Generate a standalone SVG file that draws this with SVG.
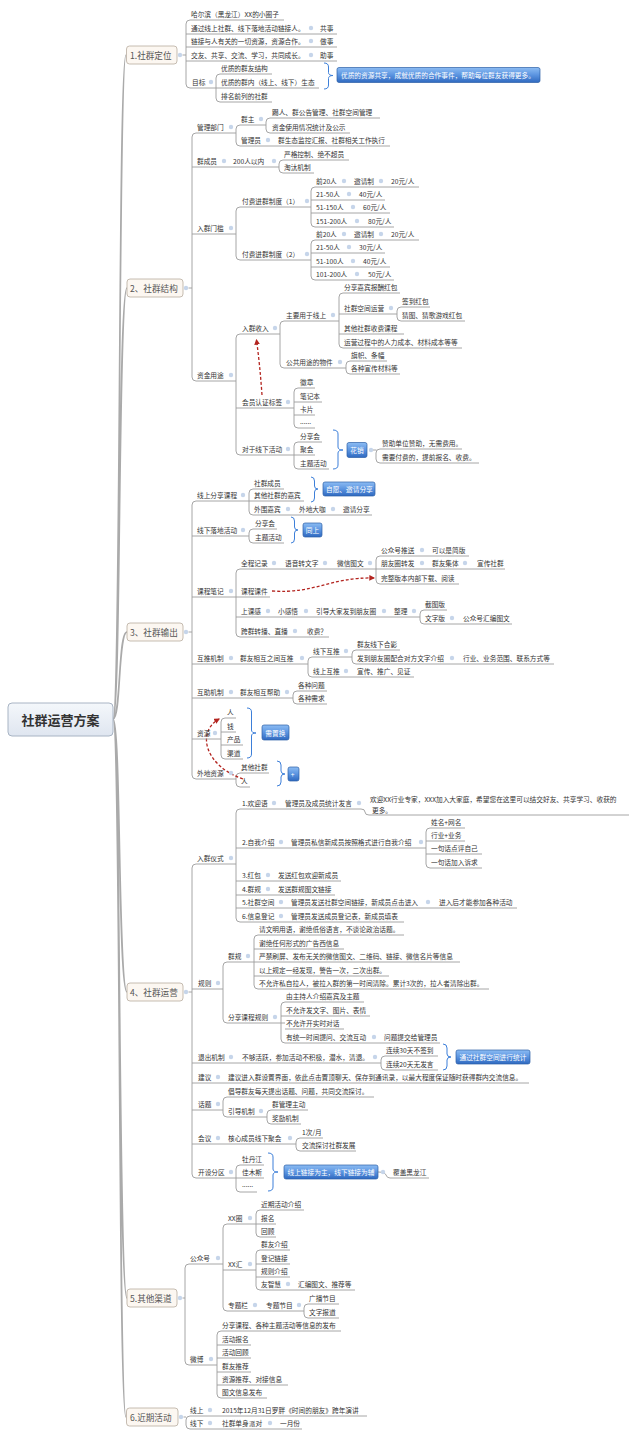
<svg xmlns="http://www.w3.org/2000/svg" width="640" height="1438" viewBox="0 0 640 1438">
<defs>
<linearGradient id="gb" x1="0" y1="0" x2="0" y2="1"><stop offset="0" stop-color="#8cbcf3"/><stop offset="0.5" stop-color="#5b94e0"/><stop offset="1" stop-color="#2f69c0"/></linearGradient>
<linearGradient id="gr" x1="0" y1="0" x2="0" y2="1"><stop offset="0" stop-color="#f4f7fb"/><stop offset="1" stop-color="#dfe6f0"/></linearGradient>
<marker id="ah" viewBox="0 0 10 10" refX="8" refY="5" markerWidth="4.5" markerHeight="4.5" orient="auto"><path d="M0,0L10,5L0,10z" fill="#b3241f"/></marker>
<style>
.t{font-family:"Noto Sans CJK SC","Noto Sans",sans-serif;font-size:6.7px;fill:#333;dominant-baseline:central}
.bt{font-family:"Noto Sans CJK SC","Noto Sans",sans-serif;font-size:8.6px;fill:#555;dominant-baseline:central}
.rt{font-family:"Noto Sans CJK SC","Noto Sans",sans-serif;font-size:13px;font-weight:bold;fill:#333;dominant-baseline:central;text-anchor:middle}
.wt{font-family:"Noto Sans CJK SC","Noto Sans",sans-serif;font-size:6.7px;fill:#fff;dominant-baseline:central}
.u{stroke:#9c9c9c;stroke-width:0.9;fill:none}
.s{stroke:#9c9c9c;stroke-width:0.9;fill:none}
.m{stroke:#aaaaaa;stroke-width:1.7;fill:none}
.d{fill:#c6d5ea}
.bx{fill:#fcf7f1;stroke:#b8aca0;stroke-width:0.8}
.bl{fill:url(#gb);stroke:#2b5ea6;stroke-width:0.7}
.br{stroke:#3d7fd9;stroke-width:1;fill:none}
.r{stroke:#b3241f;stroke-width:1.3;fill:none;stroke-dasharray:3 2}
</style>
</defs>
<rect width="640" height="1438" fill="#fff"/>

<g id="connectors">
<path class="m" d="M113,719C121,719 118,55 126,55M113,719C121,719 118,288 127,288M113,719C121,719 118,632 127,632M113,719C121,719 118,992 127,992M113,719C121,719 118,1298 127,1298M113,719C121,719 118,1417 126,1417"/>
<path class="s" d="M190,20Q186,20 186,24V84Q186,88 190,88M186,34h4M186,47h4M186,61h4M182.5,55H186
M220,74Q216,74 216,78V98Q216,102 220,102M207,88H220
M196,133Q192,133 192,137V377Q192,381 196,381M192,167h4M192,234h4M188.5,288H192
M240,125Q236,125 236,129V142Q236,146 240,146M226,133H236
M270,118Q266,118 266,122V129Q266,133 270,133M257,125H266
M283,160Q279,160 279,164V169Q279,173 283,173M269,167H279
M240,207Q236,207 236,211V256Q236,260 240,260M226,234H236
M315,187Q311,187 311,191V223Q311,227 315,227M311,200h4M302,207H311M311,213h4
M315,240Q311,240 311,244V276Q311,280 315,280M311,253h4M302,260H311M311,267h4
M240,334Q236,334 236,338V451Q236,455 240,455M226,381H236M236,408h4
M284,321Q280,321 280,325V364Q280,368 284,368M270,334H280
M343,293Q339,293 339,297V344Q339,348 343,348M339,314h4M328,321H339M339,334h4
M401,307Q397,307 397,311V317Q397,321 401,321M387,314H397
M350,361Q346,361 346,365V370Q346,374 350,374M335,368H346
M298,388Q294,388 294,392V424Q294,428 298,428M294,402h4M284,408H294M294,415h4
M298,442Q294,442 294,446V465Q294,469 298,469M284,455H298
M373,450H376.5M380,449Q376,449 376,453V459Q376,463 380,463
M196,501Q192,501 192,505V775Q192,779 196,779M192,536h4M192,597h4M188.5,632H192M192,664h4M192,698h4M192,739h4
M253,489Q249,489 249,493V511Q249,515 253,515M239,501H253
M253,529Q249,529 249,533V539Q249,543 253,543M239,536H249
M240,569Q236,569 236,573V633Q236,637 240,637M226,597H240M236,617h4
M380,556Q376,556 376,560V580Q376,584 380,584M365,569H380
M424,610Q420,610 420,614V620Q420,624 424,624M410,617H420
M312,657Q308,657 308,661V673Q308,677 312,677M297,664H308
M356,650Q352,650 352,654V660Q352,664 356,664M341,657H352
M297,691Q293,691 293,695V700Q293,704 297,704M283,698H293
M225,718Q221,718 221,722V755Q221,759 225,759M221,732h4M211,739H221M221,745h4
M240,773Q236,773 236,777V783Q236,787 240,787M226,779H236
M196,864Q192,864 192,868V1174Q192,1178 196,1178M192,989h4M188.5,992H192M192,1063h4M192,1083h4M192,1110h4M192,1144h4
M240,809Q236,809 236,813V918Q236,922 240,922M236,848h4M226,864H236M236,881h4M236,895h4M236,908h4
M355,809H361Q365,809 365,812Q365,815 369,815
M430,828Q426,828 426,832V864Q426,868 430,868M426,841h4M417,848H426M426,854h4
M227,962Q223,962 223,966V1019Q223,1023 227,1023M214,989H223
M258,935Q254,935 254,939V985Q254,989 258,989M254,949h4M244,962H258M254,976h4
M285,1002Q281,1002 281,1006V1039Q281,1043 285,1043M281,1016h4M271,1023H285
M385,1056Q381,1056 381,1060V1066Q381,1070 385,1070M371,1063H381
M227,1097Q223,1097 223,1101V1113Q223,1117 227,1117M214,1110H223
M271,1110Q267,1110 267,1114V1120Q267,1124 271,1124M257,1117H267
M300,1138Q296,1138 296,1142V1147Q296,1151 300,1151M285,1144H296
M240,1165Q236,1165 236,1169V1188Q236,1192 240,1192M226,1178H240
M378,1172Q385,1172 386,1175Q387,1178 390,1178
M189,1264Q185,1264 185,1268V1361Q185,1365 189,1365M182.5,1298H185
M227,1224Q223,1224 223,1228V1307Q223,1311 227,1311M213,1264H223M223,1270h4
M260,1210Q256,1210 256,1214V1233Q256,1237 260,1237M245,1224H260
M260,1250Q256,1250 256,1254V1286Q256,1290 260,1290M256,1264h4M245,1270H256M256,1277h4
M308,1304Q304,1304 304,1308V1314Q304,1318 308,1318M295,1311H304
M221,1331Q217,1331 217,1335V1394Q217,1398 221,1398M217,1345h4M217,1358h4M206,1365H217M217,1372h4M217,1385h4
M190,1416Q186,1416 186,1420V1425Q186,1429 190,1429M183.5,1417H186"/>
<path class="br" d="M324,63Q328.5,63 328.5,67V72.5Q328.5,75.5 333,75.5Q328.5,75.5 328.5,78.5V85Q328.5,89 324,89
M333,430Q338,430 338,434V447Q338,450 343,450Q338,450 338,453V465Q338,469 333,469
M311,477Q314.5,477 314.5,481V486Q314.5,489 318,489Q314.5,489 314.5,492V498Q314.5,502 311,502
M291,517Q294.5,517 294.5,521V527Q294.5,530 298,530Q294.5,530 294.5,533V539Q294.5,543 291,543
M247,708Q251.5,708 251.5,712V730Q251.5,733 256,733Q251.5,733 251.5,736V754Q251.5,758 247,758
M277,761Q281,761 281,765V771Q281,774 285,774Q281,774 281,777V782Q281,786 277,786
M443,1044Q447,1044 447,1048V1054Q447,1057 451,1057Q447,1057 447,1060V1066Q447,1070 443,1070
M268,1153Q273,1153 273,1157V1169Q273,1172 278,1172Q273,1172 273,1175V1187Q273,1191 268,1191"/>
<path class="r" d="M262,395Q260,366 256.5,340" marker-end="url(#ah)"/>
<path class="r" d="M272,591C315,594 330,577 374,578" marker-end="url(#ah)"/>
<path class="r" d="M243,779C205,766 196,732 219,719" marker-end="url(#ah)"/>
</g>

<g id="root"><rect x="8" y="703" width="105" height="33" rx="4" fill="url(#gr)" stroke="#a8b4c4" stroke-width="1"/><text class="rt" x="60.5" y="719.5">社群运营方案</text></g>

<g id="b1"><rect class="bx" x="126.5" y="46" width="50.5" height="18" rx="3"/><text class="bt" x="130" y="55">1.社群定位</text><circle class="d" cx="180" cy="55" r="2.2"/></g>
<g id="n1-1"><text class="t" x="191" y="14">哈尔滨（黑龙江）XX的小圈子</text><path class="u" d="M190,20H284"/></g>
<g id="n1-2"><text class="t" x="191" y="28">通过线上社群、线下落地活动链接人。</text><path class="u" d="M190,34H306"/><circle class="d" cx="311" cy="28" r="2.2"/></g>
<g id="n1-2a"><text class="t" x="320" y="28">共事</text><path class="u" d="M306,34H337"/></g>
<g id="n1-3"><text class="t" x="191" y="41">链接与人有关的一切资源，资源合作。</text><path class="u" d="M190,47H306"/><circle class="d" cx="311" cy="41" r="2.2"/></g>
<g id="n1-3a"><text class="t" x="320" y="41">做事</text><path class="u" d="M306,47H337"/></g>
<g id="n1-4"><text class="t" x="191" y="55">交友、共享、交流、学习，共同成长。</text><path class="u" d="M190,61H306"/><circle class="d" cx="311" cy="55" r="2.2"/></g>
<g id="n1-4a"><text class="t" x="320" y="55">助事</text><path class="u" d="M306,61H337"/></g>
<g id="n1-5"><text class="t" x="192" y="82">目标</text><path class="u" d="M190,88H207"/><circle class="d" cx="211" cy="82" r="2.2"/></g>
<g id="n1-5a"><text class="t" x="221" y="68">优质的群友结构</text><path class="u" d="M220,74H272"/></g>
<g id="n1-5b"><text class="t" x="221" y="82">优质的群内（线上、线下）生态</text><path class="u" d="M220,88H319"/></g>
<g id="n1-5c"><text class="t" x="221" y="96">排名前列的社群</text><path class="u" d="M220,102H272"/></g>
<g id="n1-s"><rect class="bl" x="337" y="67.5" width="203" height="15" rx="2"/><text class="wt" x="341" y="75">优质的资源共享，成就优质的合作事件，帮助每位群友获得更多。</text></g>

<g id="b2"><rect class="bx" x="127" y="279" width="56" height="18" rx="3"/><text class="bt" x="130" y="288">2、社群结构</text><circle class="d" cx="186" cy="288" r="2.2"/></g>
<g id="n2-1"><text class="t" x="197" y="127">管理部门</text><path class="u" d="M196,133H226"/><circle class="d" cx="231" cy="127" r="2.2"/></g>
<g id="n2-1a"><text class="t" x="241" y="119">群主</text><path class="u" d="M240,125H257"/><circle class="d" cx="261" cy="119" r="2.2"/></g>
<g id="n2-1a1"><text class="t" x="272" y="112">踢人、群公告管理、社群空间管理</text><path class="u" d="M270,118H380"/></g>
<g id="n2-1a2"><text class="t" x="272" y="127">资金使用情况统计及公示</text><path class="u" d="M270,133H350"/></g>
<g id="n2-1b"><text class="t" x="241" y="140">管理员</text><path class="u" d="M240,146H264"/><circle class="d" cx="268" cy="140" r="2.2"/></g>
<g id="n2-1b1"><text class="t" x="278" y="140">群生态监控汇报、社群相关工作执行</text><path class="u" d="M264,146H390"/></g>
<g id="n2-2"><text class="t" x="197" y="161">群成员</text><path class="u" d="M196,167H219"/><circle class="d" cx="224" cy="161" r="2.2"/></g>
<g id="n2-2a"><text class="t" x="233" y="161">200人以内</text><path class="u" d="M219,167H269"/><circle class="d" cx="274" cy="161" r="2.2"/></g>
<g id="n2-2a1"><text class="t" x="284" y="154">严格控制、绝不超员</text><path class="u" d="M283,160H349"/></g>
<g id="n2-2a2"><text class="t" x="284" y="167">淘汰机制</text><path class="u" d="M283,173H314"/></g>
<g id="n2-3"><text class="t" x="197" y="228">入群门槛</text><path class="u" d="M196,234H226"/><circle class="d" cx="231" cy="228" r="2.2"/></g>
<g id="n2-3a"><text class="t" x="242" y="201">付费进群制度（1）</text><path class="u" d="M240,207H302"/><circle class="d" cx="307" cy="201" r="2.2"/></g>
<g id="n2-3a1"><text class="t" x="316" y="181">前20人</text><path class="u" d="M315,187H339"/><circle class="d" cx="344" cy="181" r="2.2"/></g>
<g id="n2-3a1b"><text class="t" x="354" y="181">邀请制</text><path class="u" d="M339,187H376"/><circle class="d" cx="381" cy="181" r="2.2"/></g>
<g id="n2-3a1c"><text class="t" x="391" y="181">20元/人</text><path class="u" d="M376,187H419"/></g>
<g id="n2-3a2"><text class="t" x="316" y="194">21-50人</text><path class="u" d="M315,200H343"/><circle class="d" cx="349" cy="194" r="2.2"/></g>
<g id="n2-3a2b"><text class="t" x="359" y="194">40元/人</text><path class="u" d="M343,200H385"/></g>
<g id="n2-3a3"><text class="t" x="316" y="207">51-150人</text><path class="u" d="M315,213H347"/><circle class="d" cx="353" cy="207" r="2.2"/></g>
<g id="n2-3a3b"><text class="t" x="363" y="207">60元/人</text><path class="u" d="M347,213H390"/></g>
<g id="n2-3a4"><text class="t" x="316" y="221">151-200人</text><path class="u" d="M315,227H351"/><circle class="d" cx="357" cy="221" r="2.2"/></g>
<g id="n2-3a4b"><text class="t" x="368" y="221">80元/人</text><path class="u" d="M351,227H394"/></g>
<g id="n2-3b"><text class="t" x="242" y="254">付费进群制度（2）</text><path class="u" d="M240,260H302"/><circle class="d" cx="307" cy="254" r="2.2"/></g>
<g id="n2-3b1"><text class="t" x="316" y="234">前20人</text><path class="u" d="M315,240H339"/><circle class="d" cx="344" cy="234" r="2.2"/></g>
<g id="n2-3b1b"><text class="t" x="354" y="234">邀请制</text><path class="u" d="M339,240H376"/><circle class="d" cx="381" cy="234" r="2.2"/></g>
<g id="n2-3b1c"><text class="t" x="391" y="234">20元/人</text><path class="u" d="M376,240H419"/></g>
<g id="n2-3b2"><text class="t" x="316" y="247">21-50人</text><path class="u" d="M315,253H343"/><circle class="d" cx="349" cy="247" r="2.2"/></g>
<g id="n2-3b2b"><text class="t" x="359" y="247">30元/人</text><path class="u" d="M343,253H385"/></g>
<g id="n2-3b3"><text class="t" x="316" y="261">51-100人</text><path class="u" d="M315,267H347"/><circle class="d" cx="353" cy="261" r="2.2"/></g>
<g id="n2-3b3b"><text class="t" x="363" y="261">40元/人</text><path class="u" d="M347,267H390"/></g>
<g id="n2-3b4"><text class="t" x="316" y="274">101-200人</text><path class="u" d="M315,280H351"/><circle class="d" cx="357" cy="274" r="2.2"/></g>
<g id="n2-3b4b"><text class="t" x="368" y="274">50元/人</text><path class="u" d="M351,280H394"/></g>
<g id="n2-4"><text class="t" x="197" y="375">资金用途</text><path class="u" d="M196,381H226"/><circle class="d" cx="231" cy="375" r="2.2"/></g>
<g id="n2-4a"><text class="t" x="242" y="328">入群收入</text><path class="u" d="M240,334H270"/><circle class="d" cx="275" cy="328" r="2.2"/></g>
<g id="n2-4a1"><text class="t" x="286" y="315">主要用于线上</text><path class="u" d="M284,321H328"/><circle class="d" cx="333" cy="315" r="2.2"/></g>
<g id="n2-4a1a"><text class="t" x="344" y="287">分享嘉宾报酬红包</text><path class="u" d="M343,293H400"/></g>
<g id="n2-4a1b"><text class="t" x="344" y="308">社群空间运营</text><path class="u" d="M343,314H387"/><circle class="d" cx="391" cy="308" r="2.2"/></g>
<g id="n2-4a1b1"><text class="t" x="402" y="301">签到红包</text><path class="u" d="M401,307H430"/></g>
<g id="n2-4a1b2"><text class="t" x="402" y="315">猜图、猜歌游戏红包</text><path class="u" d="M401,321H465"/></g>
<g id="n2-4a1c"><text class="t" x="344" y="328">其他社群收费课程</text><path class="u" d="M343,334H404"/></g>
<g id="n2-4a1d"><text class="t" x="344" y="342">运营过程中的人力成本、材料成本等等</text><path class="u" d="M343,348H462"/></g>
<g id="n2-4a2"><text class="t" x="286" y="362">公共用途的物件</text><path class="u" d="M284,368H335"/><circle class="d" cx="340" cy="362" r="2.2"/></g>
<g id="n2-4a2a"><text class="t" x="351" y="355">旗帜、条幅</text><path class="u" d="M350,361H387"/></g>
<g id="n2-4a2b"><text class="t" x="351" y="368">各种宣传材料等</text><path class="u" d="M350,374H400"/></g>
<g id="n2-4b"><text class="t" x="242" y="402">会员认证标签</text><path class="u" d="M240,408H284"/><circle class="d" cx="288" cy="402" r="2.2"/></g>
<g id="n2-4b1"><text class="t" x="300" y="382">徽章</text><path class="u" d="M298,388H315"/></g>
<g id="n2-4b2"><text class="t" x="300" y="396">笔记本</text><path class="u" d="M298,402H322"/></g>
<g id="n2-4b3"><text class="t" x="300" y="409">卡片</text><path class="u" d="M298,415H315"/></g>
<g id="n2-4b4"><text class="t" x="300" y="421">......</text><path class="u" d="M298,428H315"/></g>
<g id="n2-4c"><text class="t" x="242" y="449">对于线下活动</text><path class="u" d="M240,455H284"/><circle class="d" cx="288" cy="449" r="2.2"/></g>
<g id="n2-4c1"><text class="t" x="300" y="436">分享会</text><path class="u" d="M298,442H322"/></g>
<g id="n2-4c2"><text class="t" x="300" y="449">聚会</text><path class="u" d="M298,455H315"/></g>
<g id="n2-4c3"><text class="t" x="300" y="463">主题活动</text><path class="u" d="M298,469H329"/></g>
<g id="n2-4cs"><rect class="bl" x="347" y="442.5" width="20" height="15" rx="2"/><text class="wt" x="350.3" y="450">花销</text><circle class="d" cx="371" cy="450" r="2.2"/></g>
<g id="n2-4cs1"><text class="t" x="382" y="443">赞助单位赞助，无需费用。</text><path class="u" d="M380,449H462"/></g>
<g id="n2-4cs2"><text class="t" x="382" y="457">需要付费的，提前报名、收费。</text><path class="u" d="M380,463H479"/></g>

<g id="b3"><rect class="bx" x="127" y="623" width="56" height="18" rx="3"/><text class="bt" x="130" y="632">3、社群输出</text><circle class="d" cx="186" cy="632" r="2.2"/></g>
<g id="n3-1"><text class="t" x="197" y="495">线上分享课程</text><path class="u" d="M196,501H239"/><circle class="d" cx="243" cy="495" r="2.2"/></g>
<g id="n3-1a"><text class="t" x="254" y="483">社群成员</text><path class="u" d="M253,489H284"/></g>
<g id="n3-1b"><text class="t" x="254" y="495">其他社群的嘉宾</text><path class="u" d="M253,501H304"/></g>
<g id="n3-1c"><text class="t" x="254" y="509">外围嘉宾</text><path class="u" d="M253,515H284"/><circle class="d" cx="288" cy="509" r="2.2"/></g>
<g id="n3-1c1"><text class="t" x="299" y="509">外地大咖</text><path class="u" d="M284,515H328"/><circle class="d" cx="333" cy="509" r="2.2"/></g>
<g id="n3-1c2"><text class="t" x="343" y="509">邀请分享</text><path class="u" d="M328,515H372"/></g>
<g id="n3-1s"><rect class="bl" x="323" y="482" width="52" height="14" rx="2"/><text class="wt" x="326" y="489">自愿、邀请分享</text></g>
<g id="n3-2"><text class="t" x="197" y="530">线下落地活动</text><path class="u" d="M196,536H239"/><circle class="d" cx="243" cy="530" r="2.2"/></g>
<g id="n3-2a"><text class="t" x="255" y="523">分享会</text><path class="u" d="M253,529H277"/></g>
<g id="n3-2b"><text class="t" x="255" y="537">主题活动</text><path class="u" d="M253,543H284"/></g>
<g id="n3-2s"><rect class="bl" x="303" y="523" width="19" height="14" rx="2"/><text class="wt" x="305.8" y="530">同上</text></g>
<g id="n3-3"><text class="t" x="197" y="591">课程笔记</text><path class="u" d="M196,597H226"/><circle class="d" cx="231" cy="591" r="2.2"/></g>
<g id="n3-3a"><text class="t" x="241" y="563">全程记录</text><path class="u" d="M240,569H270"/><circle class="d" cx="274" cy="563" r="2.2"/></g>
<g id="n3-3a1"><text class="t" x="285" y="563">语音转文字</text><path class="u" d="M270,569H320"/><circle class="d" cx="325" cy="563" r="2.2"/></g>
<g id="n3-3a2"><text class="t" x="337" y="563">微信图文</text><path class="u" d="M320,569H365"/><circle class="d" cx="370" cy="563" r="2.2"/></g>
<g id="n3-3a2a"><text class="t" x="381" y="550">公众号推送</text><path class="u" d="M380,556H417"/><circle class="d" cx="422" cy="550" r="2.2"/></g>
<g id="n3-3a2a1"><text class="t" x="432" y="550">可以是简版</text><path class="u" d="M417,556H469"/></g>
<g id="n3-3a2b"><text class="t" x="381" y="563">朋友圈转发</text><path class="u" d="M380,569H417"/><circle class="d" cx="422" cy="563" r="2.2"/></g>
<g id="n3-3a2b1"><text class="t" x="432" y="563">群友集体</text><path class="u" d="M417,569H460"/><circle class="d" cx="465" cy="563" r="2.2"/></g>
<g id="n3-3a2b2"><text class="t" x="477" y="563">宣传社群</text><path class="u" d="M460,569H505"/></g>
<g id="n3-3a2c"><text class="t" x="381" y="578">完整版本内部下载、阅读</text><path class="u" d="M380,584H459"/></g>
<g id="n3-3b"><text class="t" x="241" y="591">课程课件</text><path class="u" d="M240,597H270"/></g>
<g id="n3-3c"><text class="t" x="241" y="611">上课感</text><path class="u" d="M240,617H264"/><circle class="d" cx="268" cy="611" r="2.2"/></g>
<g id="n3-3c1"><text class="t" x="278" y="611">小感悟</text><path class="u" d="M264,617H301"/><circle class="d" cx="306" cy="611" r="2.2"/></g>
<g id="n3-3c2"><text class="t" x="316" y="611">引导大家发到朋友圈</text><path class="u" d="M301,617H380"/><circle class="d" cx="384" cy="611" r="2.2"/></g>
<g id="n3-3c3"><text class="t" x="394" y="611">整理</text><path class="u" d="M380,617H410"/><circle class="d" cx="414" cy="611" r="2.2"/></g>
<g id="n3-3c3a"><text class="t" x="425" y="604">截图版</text><path class="u" d="M424,610H447"/></g>
<g id="n3-3c3b"><text class="t" x="425" y="618">文字版</text><path class="u" d="M424,624H447"/><circle class="d" cx="452" cy="618" r="2.2"/></g>
<g id="n3-3c3b1"><text class="t" x="463" y="618">公众号汇编图文</text><path class="u" d="M447,624H512"/></g>
<g id="n3-3d"><text class="t" x="241" y="631">跨群转播、直播</text><path class="u" d="M240,637H290"/><circle class="d" cx="295" cy="631" r="2.2"/></g>
<g id="n3-3d1"><text class="t" x="307" y="631">收费？</text><path class="u" d="M290,637H329"/></g>
<g id="n3-4"><text class="t" x="197" y="658">互推机制</text><path class="u" d="M196,664H226"/><circle class="d" cx="231" cy="658" r="2.2"/></g>
<g id="n3-4a"><text class="t" x="240" y="658">群友相互之间互推</text><path class="u" d="M226,664H297"/><circle class="d" cx="302" cy="658" r="2.2"/></g>
<g id="n3-4a1"><text class="t" x="313" y="651">线下互推</text><path class="u" d="M312,657H341"/><circle class="d" cx="346" cy="651" r="2.2"/></g>
<g id="n3-4a1a"><text class="t" x="357" y="644">群友线下合影</text><path class="u" d="M356,650H400"/></g>
<g id="n3-4a1b"><text class="t" x="357" y="658">发到朋友圈配合对方文字介绍</text><path class="u" d="M356,664H447"/><circle class="d" cx="452" cy="658" r="2.2"/></g>
<g id="n3-4a1b1"><text class="t" x="463" y="658">行业、业务范围、联系方式等</text><path class="u" d="M447,664H554"/></g>
<g id="n3-4a2"><text class="t" x="313" y="671">线上互推</text><path class="u" d="M312,677H341"/><circle class="d" cx="346" cy="671" r="2.2"/></g>
<g id="n3-4a2a"><text class="t" x="357" y="671">宣传、推广、见证</text><path class="u" d="M341,677H414"/></g>
<g id="n3-5"><text class="t" x="197" y="692">互助机制</text><path class="u" d="M196,698H226"/><circle class="d" cx="231" cy="692" r="2.2"/></g>
<g id="n3-5a"><text class="t" x="240" y="692">群友相互帮助</text><path class="u" d="M226,698H283"/><circle class="d" cx="287" cy="692" r="2.2"/></g>
<g id="n3-5a1"><text class="t" x="298" y="685">各种问题</text><path class="u" d="M297,691H327"/></g>
<g id="n3-5a2"><text class="t" x="298" y="698">各种需求</text><path class="u" d="M297,704H327"/></g>
<g id="n3-6"><text class="t" x="197" y="733">资源</text><path class="u" d="M196,739H211"/><circle class="d" cx="215" cy="733" r="2.2"/></g>
<g id="n3-6a"><text class="t" x="227" y="712">人</text><path class="u" d="M225,718H236"/></g>
<g id="n3-6b"><text class="t" x="227" y="726">钱</text><path class="u" d="M225,732H236"/></g>
<g id="n3-6c"><text class="t" x="227" y="739">产品</text><path class="u" d="M225,745H243"/></g>
<g id="n3-6d"><text class="t" x="227" y="753">渠道</text><path class="u" d="M225,759H243"/></g>
<g id="n3-6s"><rect class="bl" x="262" y="725" width="27" height="15" rx="2"/><text class="wt" x="265.3" y="732.5">需置换</text></g>
<g id="n3-7"><text class="t" x="197" y="773">外地资源</text><path class="u" d="M196,779H226"/><circle class="d" cx="231" cy="773" r="2.2"/></g>
<g id="n3-7a"><text class="t" x="241" y="767">其他社群</text><path class="u" d="M240,773H269"/></g>
<g id="n3-7b"><text class="t" x="241" y="781">人</text><path class="u" d="M240,787H250"/></g>
<g id="n3-7s"><rect class="bl" x="288" y="767" width="11" height="14" rx="2"/><text class="wt" x="290.8" y="774">+</text></g>

<g id="b4"><rect class="bx" x="127" y="983" width="56" height="18" rx="3"/><text class="bt" x="130" y="992">4、社群运营</text><circle class="d" cx="186" cy="992" r="2.2"/></g>
<g id="n4-1"><text class="t" x="197" y="858">入群仪式</text><path class="u" d="M196,864H226"/><circle class="d" cx="231" cy="858" r="2.2"/></g>
<g id="n4-1a"><text class="t" x="242" y="803">1.欢迎语</text><path class="u" d="M240,809H270"/><circle class="d" cx="274" cy="803" r="2.2"/></g>
<g id="n4-1a1"><text class="t" x="285" y="803">管理员及成员统计发言</text><path class="u" d="M270,809H355"/><circle class="d" cx="359" cy="803" r="2.2"/></g>
<g id="n4-1a2"><text class="t" x="370" y="799">欢迎XX行业专家，XXX加入大家庭，希望您在这里可以结交好友、共享学习、收获的</text><text class="t" x="372" y="809.5">更多。</text><path class="u" d="M369,815H629"/></g>
<g id="n4-1b"><text class="t" x="242" y="842">2.自我介绍</text><path class="u" d="M240,848H277"/><circle class="d" cx="281" cy="842" r="2.2"/></g>
<g id="n4-1b1"><text class="t" x="291" y="842">管理员私信新成员按照格式进行自我介绍</text><path class="u" d="M277,848H417"/><circle class="d" cx="421" cy="842" r="2.2"/></g>
<g id="n4-1b1a"><text class="t" x="431" y="822">姓名+网名</text><path class="u" d="M430,828H465"/></g>
<g id="n4-1b1b"><text class="t" x="431" y="835">行业+业务</text><path class="u" d="M430,841H465"/></g>
<g id="n4-1b1c"><text class="t" x="431" y="848">一句话点评自己</text><path class="u" d="M430,854H482"/></g>
<g id="n4-1b1d"><text class="t" x="431" y="862">一句话加入诉求</text><path class="u" d="M430,868H482"/></g>
<g id="n4-1c"><text class="t" x="242" y="875">3.红包</text><path class="u" d="M240,881H264"/><circle class="d" cx="268" cy="875" r="2.2"/></g>
<g id="n4-1c1"><text class="t" x="278" y="875">发送红包欢迎新成员</text><path class="u" d="M264,881H341"/></g>
<g id="n4-1d"><text class="t" x="242" y="889">4.群规</text><path class="u" d="M240,895H264"/><circle class="d" cx="268" cy="889" r="2.2"/></g>
<g id="n4-1d1"><text class="t" x="278" y="889">发送群规图文链接</text><path class="u" d="M264,895H335"/></g>
<g id="n4-1e"><text class="t" x="242" y="902">5.社群空间</text><path class="u" d="M240,908H277"/><circle class="d" cx="281" cy="902" r="2.2"/></g>
<g id="n4-1e1"><text class="t" x="291" y="902">管理员发送社群空间链接，新成员点击进入</text><path class="u" d="M277,908H424"/><circle class="d" cx="428" cy="902" r="2.2"/></g>
<g id="n4-1e2"><text class="t" x="439" y="902">进入后才能参加各种活动</text><path class="u" d="M424,908H517"/></g>
<g id="n4-1f"><text class="t" x="242" y="916">6.信息登记</text><path class="u" d="M240,922H277"/><circle class="d" cx="281" cy="916" r="2.2"/></g>
<g id="n4-1f1"><text class="t" x="291" y="916">管理员发送成员登记表，新成员填表</text><path class="u" d="M277,922H404"/></g>
<g id="n4-2"><text class="t" x="198" y="983">规则</text><path class="u" d="M196,989H214"/><circle class="d" cx="218" cy="983" r="2.2"/></g>
<g id="n4-2a"><text class="t" x="228" y="956">群规</text><path class="u" d="M227,962H244"/><circle class="d" cx="248" cy="956" r="2.2"/></g>
<g id="n4-2a1"><text class="t" x="259" y="929">请文明用语，谢绝低俗语言，不谈论政治话题。</text><path class="u" d="M258,935H404"/></g>
<g id="n4-2a2"><text class="t" x="259" y="943">谢绝任何形式的广告西信息</text><path class="u" d="M258,949H344"/></g>
<g id="n4-2a3"><text class="t" x="259" y="956">严禁刷屏、发布无关的微信图文、二维码、链接、微信名片等信息</text><path class="u" d="M258,962H460"/></g>
<g id="n4-2a4"><text class="t" x="259" y="970">以上规定一经发现，警告一次，二次出群。</text><path class="u" d="M258,976H389"/></g>
<g id="n4-2a5"><text class="t" x="259" y="983">不允许私自拉人，被拉入群的第一时间清除。累计3次的，拉人者清除出群。</text><path class="u" d="M258,989H489"/></g>
<g id="n4-2b"><text class="t" x="228" y="1017">分享课程规则</text><path class="u" d="M227,1023H271"/><circle class="d" cx="275" cy="1017" r="2.2"/></g>
<g id="n4-2b1"><text class="t" x="286" y="996">由主持人介绍嘉宾及主题</text><path class="u" d="M285,1002H364"/></g>
<g id="n4-2b2"><text class="t" x="286" y="1010">不允许发文字、图片、表情</text><path class="u" d="M285,1016H370"/></g>
<g id="n4-2b3"><text class="t" x="286" y="1023">不允许开实时对话</text><path class="u" d="M285,1029H344"/></g>
<g id="n4-2b4"><text class="t" x="286" y="1037">有统一时间提问、交流互动</text><path class="u" d="M285,1043H370"/><circle class="d" cx="374" cy="1037" r="2.2"/></g>
<g id="n4-2b4a"><text class="t" x="384" y="1037">问题提交给管理员</text><path class="u" d="M370,1043H440"/></g>
<g id="n4-3"><text class="t" x="198" y="1057">退出机制</text><path class="u" d="M196,1063H226"/><circle class="d" cx="231" cy="1057" r="2.2"/></g>
<g id="n4-3a"><text class="t" x="242" y="1057">不够活跃，参加活动不积极，潜水，清退。</text><path class="u" d="M226,1063H371"/><circle class="d" cx="375" cy="1057" r="2.2"/></g>
<g id="n4-3a1"><text class="t" x="386" y="1050">连续30天不签到</text><path class="u" d="M385,1056H438"/></g>
<g id="n4-3a2"><text class="t" x="386" y="1064">连续20天无发言</text><path class="u" d="M385,1070H438"/></g>
<g id="n4-3s"><rect class="bl" x="456" y="1050" width="74" height="14" rx="2"/><text class="wt" x="459.5" y="1057">通过社群空间进行统计</text></g>
<g id="n4-4"><text class="t" x="198" y="1077">建议</text><path class="u" d="M196,1083H214"/><circle class="d" cx="218" cy="1077" r="2.2"/></g>
<g id="n4-4a"><text class="t" x="228" y="1077">建议进入群设置界面，依此点击置顶聊天、保存到通讯录，以最大程度保证随时获得群内交流信息。</text><path class="u" d="M214,1083H529"/></g>
<g id="n4-5"><text class="t" x="198" y="1104">话题</text><path class="u" d="M196,1110H214"/><circle class="d" cx="218" cy="1104" r="2.2"/></g>
<g id="n4-5a"><text class="t" x="228" y="1091">倡导群友每天提出话题、问题，共同交流探讨。</text><path class="u" d="M227,1097H374"/></g>
<g id="n4-5b"><text class="t" x="228" y="1111">引导机制</text><path class="u" d="M227,1117H257"/><circle class="d" cx="261" cy="1111" r="2.2"/></g>
<g id="n4-5b1"><text class="t" x="272" y="1104">群管理主动</text><path class="u" d="M271,1110H308"/></g>
<g id="n4-5b2"><text class="t" x="272" y="1118">奖励机制</text><path class="u" d="M271,1124H301"/></g>
<g id="n4-6"><text class="t" x="198" y="1138">会议</text><path class="u" d="M196,1144H214"/><circle class="d" cx="218" cy="1138" r="2.2"/></g>
<g id="n4-6a"><text class="t" x="228" y="1138">核心成员线下聚会</text><path class="u" d="M214,1144H285"/><circle class="d" cx="290" cy="1138" r="2.2"/></g>
<g id="n4-6a1"><text class="t" x="302" y="1132">1次/月</text><path class="u" d="M300,1138H323"/></g>
<g id="n4-6a2"><text class="t" x="302" y="1145">交流探讨社群发展</text><path class="u" d="M300,1151H356"/></g>
<g id="n4-7"><text class="t" x="198" y="1172">开设分区</text><path class="u" d="M196,1178H226"/><circle class="d" cx="231" cy="1172" r="2.2"/></g>
<g id="n4-7a"><text class="t" x="242" y="1159">牡丹江</text><path class="u" d="M240,1165H264"/></g>
<g id="n4-7b"><text class="t" x="242" y="1172">佳木斯</text><path class="u" d="M240,1178H264"/></g>
<g id="n4-7c"><text class="t" x="242" y="1184">......</text><path class="u" d="M240,1192H257"/></g>
<g id="n4-7s"><rect class="bl" x="284" y="1165" width="94" height="14" rx="2"/><text class="wt" x="287.5" y="1172">线上链接为主，线下链接为辅</text><circle class="d" cx="383" cy="1172" r="2.2"/></g>
<g id="n4-7s1"><text class="t" x="393" y="1172">覆盖黑龙江</text><path class="u" d="M390,1178H429"/></g>

<g id="b5"><rect class="bx" x="127" y="1289" width="50" height="18" rx="3"/><text class="bt" x="130" y="1298">5.其他渠道</text><circle class="d" cx="180" cy="1298" r="2.2"/></g>
<g id="n5-1"><text class="t" x="190" y="1258">公众号</text><path class="u" d="M189,1264H213"/><circle class="d" cx="218" cy="1258" r="2.2"/></g>
<g id="n5-1a"><text class="t" x="228" y="1218">XX圈</text><path class="u" d="M227,1224H245"/><circle class="d" cx="250" cy="1218" r="2.2"/></g>
<g id="n5-1a1"><text class="t" x="261" y="1204">近期活动介绍</text><path class="u" d="M260,1210H304"/></g>
<g id="n5-1a2"><text class="t" x="261" y="1218">报名</text><path class="u" d="M260,1224H276"/></g>
<g id="n5-1a3"><text class="t" x="261" y="1231">回顾</text><path class="u" d="M260,1237H276"/></g>
<g id="n5-1b"><text class="t" x="228" y="1264">XX汇</text><path class="u" d="M227,1270H245"/><circle class="d" cx="250" cy="1264" r="2.2"/></g>
<g id="n5-1b1"><text class="t" x="261" y="1244">群友介绍</text><path class="u" d="M260,1250H290"/></g>
<g id="n5-1b2"><text class="t" x="261" y="1258">登记链接</text><path class="u" d="M260,1264H290"/></g>
<g id="n5-1b3"><text class="t" x="261" y="1271">规则介绍</text><path class="u" d="M260,1277H290"/></g>
<g id="n5-1b4"><text class="t" x="261" y="1284">友智慧</text><path class="u" d="M260,1290H284"/><circle class="d" cx="288" cy="1284" r="2.2"/></g>
<g id="n5-1b4a"><text class="t" x="298" y="1284">汇编图文、推荐等</text><path class="u" d="M284,1290H355"/></g>
<g id="n5-1c"><text class="t" x="228" y="1305">专题栏</text><path class="u" d="M227,1311H251"/><circle class="d" cx="255" cy="1305" r="2.2"/></g>
<g id="n5-1c1"><text class="t" x="266" y="1305">专题节目</text><path class="u" d="M251,1311H295"/><circle class="d" cx="299" cy="1305" r="2.2"/></g>
<g id="n5-1c1a"><text class="t" x="309" y="1298">广播节目</text><path class="u" d="M308,1304H339"/></g>
<g id="n5-1c1b"><text class="t" x="309" y="1312">文字报道</text><path class="u" d="M308,1318H339"/></g>
<g id="n5-2"><text class="t" x="190" y="1359">微博</text><path class="u" d="M189,1365H206"/><circle class="d" cx="211" cy="1359" r="2.2"/></g>
<g id="n5-2a"><text class="t" x="222" y="1325">分享课程、各种主题活动等信息的发布</text><path class="u" d="M221,1331H341"/></g>
<g id="n5-2b"><text class="t" x="222" y="1339">活动报名</text><path class="u" d="M221,1345H251"/></g>
<g id="n5-2c"><text class="t" x="222" y="1352">活动回顾</text><path class="u" d="M221,1358H251"/></g>
<g id="n5-2d"><text class="t" x="222" y="1366">群友推荐</text><path class="u" d="M221,1372H251"/></g>
<g id="n5-2e"><text class="t" x="222" y="1379">资源推荐、对接信息</text><path class="u" d="M221,1385H288"/></g>
<g id="n5-2f"><text class="t" x="222" y="1392">图文信息发布</text><path class="u" d="M221,1398H267"/></g>

<g id="b6"><rect class="bx" x="126.5" y="1408" width="51.5" height="18" rx="3"/><text class="bt" x="130" y="1417">6.近期活动</text><circle class="d" cx="181" cy="1417" r="2.2"/></g>
<g id="n6-1"><text class="t" x="190" y="1410">线上</text><path class="u" d="M190,1416H206"/><circle class="d" cx="210" cy="1410" r="2.2"/></g>
<g id="n6-1a"><text class="t" x="222" y="1410">2015年12月31日罗胖《时间的朋友》跨年演讲</text><path class="u" d="M206,1416H367"/></g>
<g id="n6-2"><text class="t" x="190" y="1423">线下</text><path class="u" d="M190,1429H206"/><circle class="d" cx="210" cy="1423" r="2.2"/></g>
<g id="n6-2a"><text class="t" x="222" y="1423">社群单身派对</text><path class="u" d="M206,1429H266"/><circle class="d" cx="270" cy="1423" r="2.2"/></g>
<g id="n6-2b"><text class="t" x="280" y="1423">一月份</text><path class="u" d="M266,1429H302"/></g>
</svg>
